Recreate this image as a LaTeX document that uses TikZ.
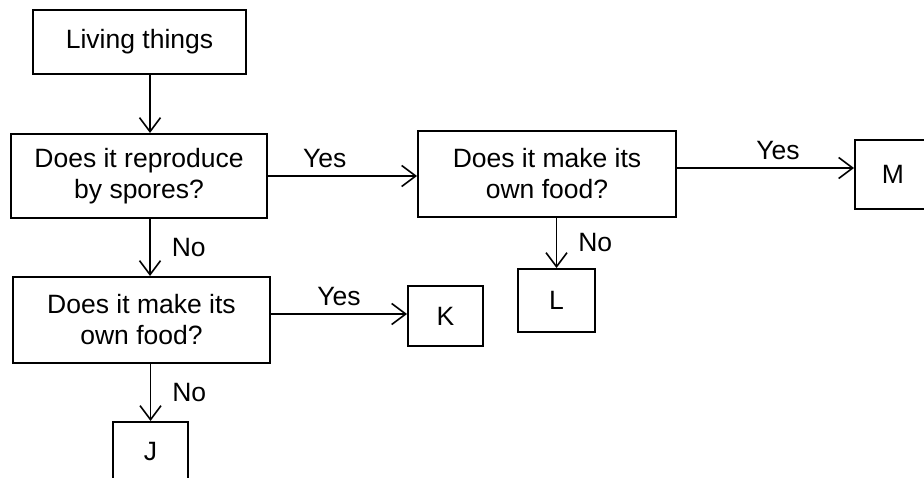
\documentclass[tikz,border=0pt]{standalone}
\usepackage{fontspec}
\setmainfont{Liberation Sans}
\usetikzlibrary{arrows.meta}

\begin{document}
\begin{tikzpicture}[x=1pt, y=1pt, line width=1.6pt,
  box/.style={draw, line width=2pt, inner sep=0pt, align=center, font=\fontsize{26.5}{31}\selectfont},
  ans/.style={inner sep=7pt, font=\fontsize{26.5}{31}\selectfont},
  >={Straight Barb[length=14pt,width=21pt]}]

\useasboundingbox (0,0) rectangle (924,-478);

\node[box, minimum width=213pt, minimum height=64pt] (living) at (139.5,-42) {Living things};
\node[box, minimum width=256pt, minimum height=84pt] (spores) at (139,-176) {Does it reproduce\\by spores?};
\node[box, minimum width=258pt, minimum height=86pt] (food1) at (547,-174) {Does it make its\\own food?};
\node[box, minimum width=76pt, minimum height=69pt] (M) at (893,-174.5) {M};
\node[box, minimum width=77pt, minimum height=63pt] (L) at (556.5,-300.5) {L};
\node[box, minimum width=257pt, minimum height=86pt] (food2) at (141.5,-320) {Does it make its\\own food?};
\node[box, minimum width=75pt, minimum height=60pt] (K) at (445.5,-316) {K};
\node[box, minimum width=75pt, minimum height=60pt] (J) at (150.5,-452) {J};

\draw[->] ([xshift=10.5pt]living.south) -- ([xshift=11pt]spores.north);
\draw[->] (spores.east) -- (spores.east -| food1.west) node[ans, above, pos=.38] {Yes};
\draw[->] ([yshift=6pt]food1.east) -- ([yshift=6pt]food1.east -| M.west) node[ans, above, pos=.57] {Yes};
\draw[->] (food1.south -| L.north) -- (L.north) node[ans, right, midway, inner xsep=21pt] {No};
\draw[->] ([xshift=11pt]spores.south) -- ([xshift=11pt]spores.south |- food2.north) node[ans, right, midway, inner xsep=21pt] {No};
\draw[->] ([yshift=6pt]food2.east) -- ([yshift=6pt]food2.east -| K.west) node[ans, above, midway] {Yes};
\draw[->] (food2.south -| J.north) -- (J.north) node[ans, right, midway, inner xsep=21pt] {No};

\end{tikzpicture}
\end{document}
